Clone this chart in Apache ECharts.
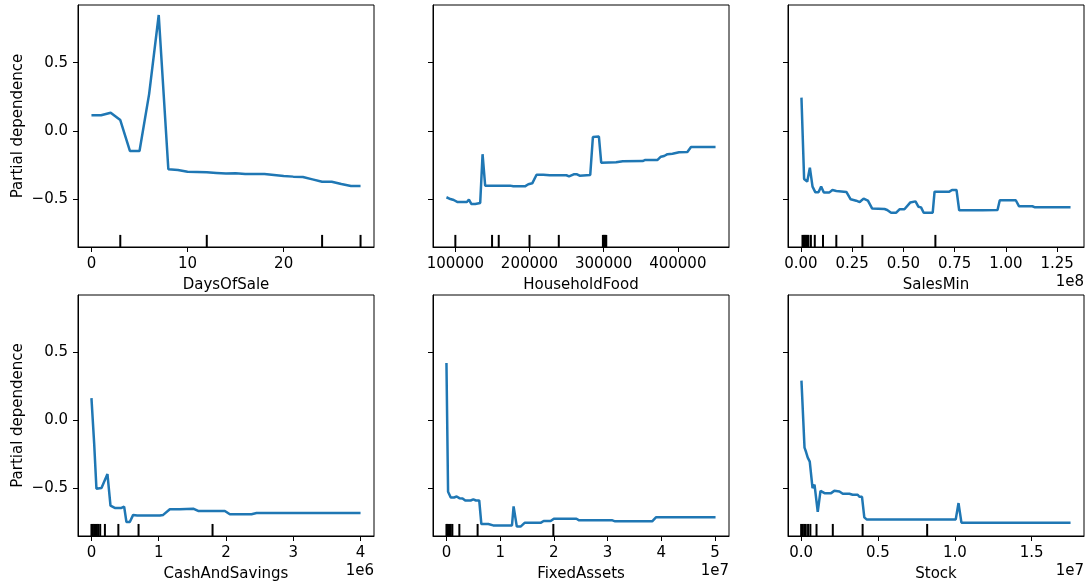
<!DOCTYPE html>
<html><head><meta charset="utf-8">
<script src="https://cdn.jsdelivr.net/npm/echarts@6/dist/echarts.min.js"></script>
<style>html,body{margin:0;padding:0;background:#fff}#c{width:1089px;height:585px}</style>
</head><body><div id="c"></div>
<script>
// ---------- data ----------
const featureNames = ['DaysOfSale', 'HouseholdFood', 'SalesMin', 'CashAndSavings', 'FixedAssets', 'Stock'];
const yAxisName = 'Partial dependence';
const yTicks = [-0.5, 0, 0.5];
const yMin = -0.849, yMax = 0.922;

const daysX = [0,1,2,3,4,5,6,7,8,9,10,11,12,13,14,15,16,17,18,19,20,21,22,23,24,25,26,27,28];
const daysY = [0.115,0.115,0.134,0.08,-0.146,-0.146,0.27,0.849,-0.28,-0.285,-0.298,-0.30,-0.302,-0.307,-0.312,-0.31,-0.315,-0.315,-0.315,-0.322,-0.329,-0.334,-0.337,-0.354,-0.371,-0.371,-0.388,-0.402,-0.402];
const daysDeciles = [3, 12, 24, 28];
const daysTicks = [0, 10, 20];

const foodX = [88000,93300,97800,103100,108900,115600,118300,121500,126800,133500,136700,140200,151400,164800,173800,178200,193900,198400,203700,209500,218500,227400,249800,253300,259600,264100,267600,281900,285500,293600,296700,316800,325800,352600,356200,372700,377200,381600,386100,392800,401700,412900,417800,433000,450900];
const foodY = [-0.485,-0.498,-0.505,-0.52,-0.52,-0.52,-0.502,-0.534,-0.534,-0.527,-0.17,-0.40,-0.40,-0.40,-0.40,-0.405,-0.405,-0.39,-0.383,-0.32,-0.32,-0.324,-0.324,-0.332,-0.317,-0.317,-0.327,-0.322,-0.044,-0.041,-0.232,-0.229,-0.222,-0.22,-0.212,-0.212,-0.188,-0.183,-0.17,-0.166,-0.156,-0.154,-0.117,-0.117,-0.117];
const foodDeciles = [100000, 149500, 158500, 200000, 239500, 299000, 300500, 302000, 303500];
const foodTicks = [100000, 200000, 300000, 400000];

const salesX = [0.3e6,1.6e6,3.1e6,4.4e6,5.7e6,7.1e6,8.6e6,9.9e6,11.2e6,13.8e6,15.4e6,17.3e6,22.2e6,24.3e6,27.0e6,28.7e6,30.6e6,32.7e6,34.8e6,40.8e6,42.1e6,44.0e6,46.5e6,48.1e6,50.5e6,53.3e6,55.9e6,57.3e6,58.6e6,59.9e6,64.3e6,65.2e6,72.4e6,73.7e6,75.9e6,77.2e6,88.6e6,95.9e6,97.0e6,104.8e6,106.4e6,112.9e6,114.2e6,131.5e6];
const salesY = [0.244,-0.351,-0.371,-0.268,-0.407,-0.449,-0.449,-0.407,-0.451,-0.451,-0.432,-0.439,-0.446,-0.50,-0.51,-0.52,-0.495,-0.51,-0.568,-0.571,-0.578,-0.598,-0.598,-0.573,-0.573,-0.524,-0.515,-0.554,-0.559,-0.598,-0.598,-0.444,-0.444,-0.432,-0.432,-0.58,-0.58,-0.578,-0.507,-0.507,-0.551,-0.551,-0.559,-0.559];
const salesDeciles = [0.8e6, 1.4e6, 2.0e6, 2.6e6, 3.2e6, 3.7e6, 4.9e6, 6.8e6, 10.8e6, 17.3e6, 30.0e6, 65.6e6];
const salesTicks = [0, 0.25e8, 0.5e8, 0.75e8, 1.0e8, 1.25e8];

const cashX = [0,0.04e6,0.074e6,0.149e6,0.238e6,0.283e6,0.347e6,0.446e6,0.486e6,0.52e6,0.57e6,0.62e6,0.68e6,1.016e6,1.066e6,1.165e6,1.313e6,1.512e6,1.537e6,1.586e6,1.983e6,2.057e6,2.379e6,2.454e6,4.0e6];
const cashY = [0.164,-0.166,-0.501,-0.496,-0.394,-0.626,-0.643,-0.643,-0.633,-0.746,-0.746,-0.694,-0.699,-0.699,-0.694,-0.653,-0.653,-0.648,-0.648,-0.665,-0.665,-0.689,-0.689,-0.68,-0.68];
const cashDeciles = [0, 0.02e6, 0.04e6, 0.06e6, 0.08e6, 0.1e6, 0.13e6, 0.2e6, 0.4e6, 0.7e6, 1.8e6];
const cashTicks = [0, 1e6, 2e6, 3e6, 4e6];

const fixedX = [0,0.03e7,0.08e7,0.14e7,0.19e7,0.24e7,0.30e7,0.35e7,0.45e7,0.50e7,0.55e7,0.61e7,0.65e7,0.78e7,0.87e7,1.22e7,1.25e7,1.31e7,1.38e7,1.46e7,1.76e7,1.81e7,1.94e7,2.0e7,2.42e7,2.47e7,3.09e7,3.14e7,3.83e7,3.90e7,5.01e7];
const fixedY = [0.422,-0.524,-0.566,-0.566,-0.559,-0.571,-0.573,-0.588,-0.588,-0.58,-0.588,-0.588,-0.761,-0.761,-0.771,-0.771,-0.632,-0.78,-0.78,-0.751,-0.751,-0.739,-0.739,-0.722,-0.722,-0.734,-0.734,-0.741,-0.741,-0.712,-0.712];
const fixedDeciles = [0, 0.01e7, 0.02e7, 0.04e7, 0.06e7, 0.08e7, 0.11e7, 0.24e7, 0.58e7, 1.99e7];
const fixedTicks = [0, 1e7, 2e7, 3e7, 4e7, 5e7];

const stockX = [0.002e7,0.022e7,0.032e7,0.043e7,0.056e7,0.074e7,0.087e7,0.095e7,0.108e7,0.126e7,0.152e7,0.195e7,0.216e7,0.249e7,0.271e7,0.314e7,0.335e7,0.368e7,0.379e7,0.396e7,0.411e7,0.426e7,1.006e7,1.024e7,1.043e7,1.753e7];
const stockY = [0.293,-0.2,-0.232,-0.273,-0.302,-0.498,-0.471,-0.471,-0.671,-0.517,-0.534,-0.534,-0.517,-0.522,-0.539,-0.539,-0.546,-0.546,-0.561,-0.561,-0.712,-0.727,-0.727,-0.607,-0.751,-0.751];
const stockDeciles = [0, 0.01e7, 0.02e7, 0.03e7, 0.045e7, 0.06e7, 0.1e7, 0.206e7, 0.40e7, 0.82e7];
const stockTicks = [0, 0.5e7, 1.0e7, 1.5e7];

const offsetTexts = ['', '', '1e8', '1e6', '1e7', '1e7'];

// ---------- build ----------
const panels = [
  {x: daysX, y: daysY, d: daysDeciles, t: daysTicks, f: v => String(v)},
  {x: foodX, y: foodY, d: foodDeciles, t: foodTicks, f: v => String(v)},
  {x: salesX, y: salesY, d: salesDeciles, t: salesTicks, f: v => (v / 1e8).toFixed(2)},
  {x: cashX, y: cashY, d: cashDeciles, t: cashTicks, f: v => String(Math.round(v / 1e6))},
  {x: fixedX, y: fixedY, d: fixedDeciles, t: fixedTicks, f: v => String(Math.round(v / 1e7))},
  {x: stockX, y: stockY, d: stockDeciles, t: stockTicks, f: v => (v / 1e7).toFixed(1)}
];

const FONT = 'DejaVu Sans';
const lefts = [78, 433, 788], tops = [5, 295], W = 296, Hs = [242, 241];
const grids = [], xAxes = [], yAxes = [], series = [], graphics = [];
const fmtY = v => (v < 0 ? '\u2212' : '') + Math.abs(v).toFixed(1);

panels.forEach((p, i) => {
  const col = i % 3, row = Math.floor(i / 3);
  grids.push({left: lefts[col], top: tops[row], width: W, height: Hs[row], show: true, borderColor: '#000', borderWidth: 1, containLabel: false});
  const xmin = Math.min(...p.x), xmax = Math.max(...p.x), span = xmax - xmin;
  xAxes.push({
    type: 'value', gridIndex: i, min: xmin - 0.05 * span, max: xmax + 0.05 * span,
    name: featureNames[i], nameLocation: 'middle', nameGap: 31,
    nameTextStyle: {fontFamily: FONT, fontSize: 15, color: '#000'},
    axisLine: {show: true, onZero: false, lineStyle: {color: '#000', width: 1}},
    axisTick: {show: true, length: 5, lineStyle: {color: '#000', width: 1}, customValues: p.t},
    axisLabel: {show: true, margin: 10, fontFamily: FONT, fontSize: 15, color: '#000', customValues: p.t, formatter: p.f},
    splitLine: {show: false}
  });
  yAxes.push({
    type: 'value', gridIndex: i, min: yMin, max: yMax,
    name: col === 0 ? yAxisName : '', nameLocation: 'middle', nameGap: 52,
    nameTextStyle: {fontFamily: FONT, fontSize: 15, color: '#000'},
    axisLine: {show: true, onZero: false, lineStyle: {color: '#000', width: 1}},
    axisTick: {show: true, length: 5, lineStyle: {color: '#000', width: 1}, customValues: yTicks},
    axisLabel: {show: col === 0, margin: 10, fontFamily: FONT, fontSize: 15, color: '#000', customValues: yTicks, formatter: fmtY},
    splitLine: {show: false}
  });
  series.push({
    type: 'line', xAxisIndex: i, yAxisIndex: i, showSymbol: false, symbol: 'none',
    data: p.x.map((v, k) => [v, p.y[k]]),
    lineStyle: {color: '#1f77b4', width: 2.5}, itemStyle: {color: '#1f77b4'},
    animation: false, z: 3
  });
  series.push({
    type: 'custom', xAxisIndex: i, yAxisIndex: i, animation: false, z: 2,
    data: p.d.map(v => [v, yMin]),
    renderItem: (params, api) => {
      const a = api.coord([api.value(0), yMin]);
      const b = api.coord([api.value(0), yMin + 0.05 * (yMax - yMin)]);
      return {type: 'line', shape: {x1: a[0], y1: a[1], x2: b[0], y2: b[1]}, style: {stroke: '#000', lineWidth: 2}};
    }
  });
  if (offsetTexts[i]) {
    graphics.push({
      type: 'text', right: 1089 - (lefts[col] + W), top: tops[row] + Hs[row] + 28,
      style: {text: offsetTexts[i], font: '15px "' + FONT + '"', fill: '#000', textAlign: 'right'}
    });
  }
});

const chart = echarts.init(document.getElementById('c'), null, {renderer: 'canvas'});
chart.setOption({
  backgroundColor: '#fff',
  animation: false,
  grid: grids, xAxis: xAxes, yAxis: yAxes, series: series, graphic: graphics
});
</script>
</body></html>
